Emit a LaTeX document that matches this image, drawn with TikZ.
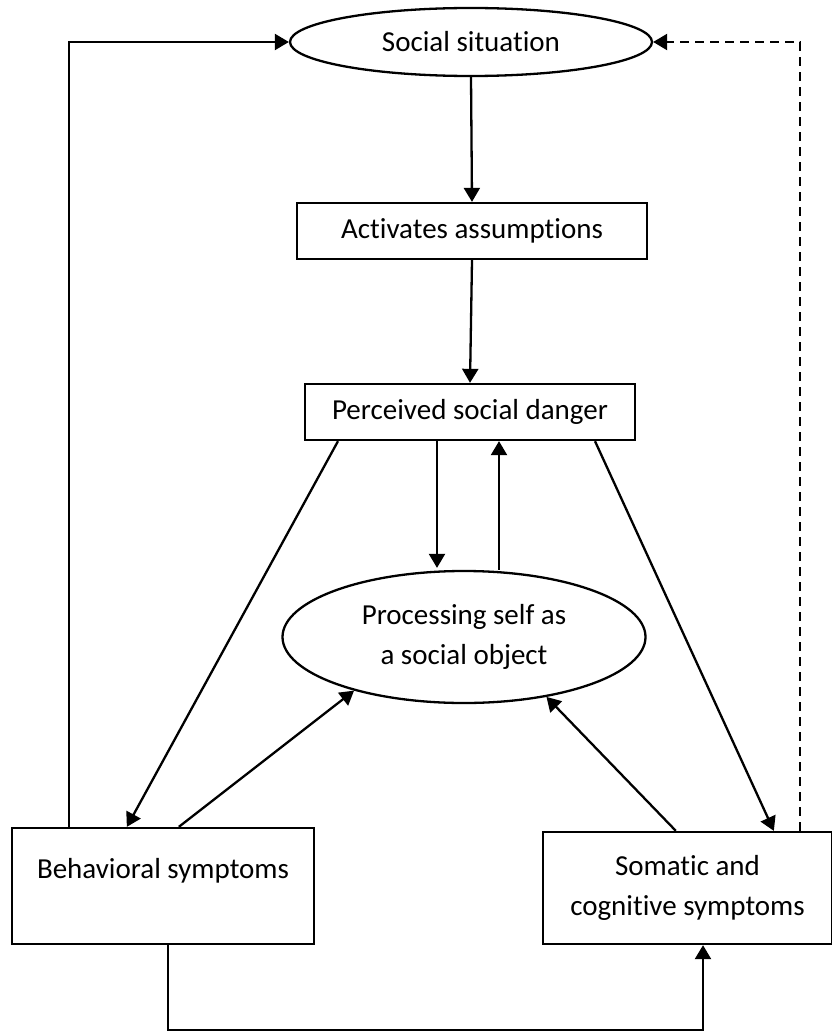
\documentclass[tikz,border=0pt]{standalone}
\usepackage{fontspec}
\setmainfont{Carlito}[RawFeature={-liga;-clig;-calt;-dlig}]
\usetikzlibrary{shapes.geometric,arrows.meta}
\newcommand\tI{t\kern0pt i}
\begin{document}
\begin{tikzpicture}[x=1pt,y=-1pt,
  every node/.style={font=\fontsize{29}{40}\selectfont, inner sep=0pt},
  box/.style={draw, line width=2.3pt, rectangle},
  oval/.style={draw, line width=2.3pt, ellipse},
  conn/.style={line width=2.3pt},
  arr/.style={conn, -{Triangle[length=14pt,width=16pt]}},
  dasharr/.style={arr, dash pattern=on 9pt off 6pt}]
\useasboundingbox (0,0) rectangle (831,1032);
% nodes
\node[oval, minimum width=362pt, minimum height=68pt] (soc) at (471,42) {Social situa\tI on};
\node[box, minimum width=350pt, minimum height=56pt] (act) at (472,231) {Ac\tI vates assump\tI ons};
\node[box, minimum width=330pt, minimum height=56pt] (per) at (470,412) {Perceived social danger};
\node[oval, minimum width=363pt, minimum height=132pt, align=center] (proc) at (464,637) {Processing self as\\a social object};
\node[box, minimum width=302pt, minimum height=116pt] (beh) at (163,886) {};
\node (behT) at (163,871) {Behavioral symptoms};
\node[box, minimum width=289pt, minimum height=112pt, align=center] (som) at (687.5,888) {Soma\tI c and\\cogni\tI ve symptoms};
% connectors
\draw[arr] (soc.south) -- (act.north);
\draw[arr] (act.south) -- (per.north);
\draw[arr, shorten >=2pt] ([xshift=-33pt]per.south) -- ([xshift=-33pt]per.south |- proc.north);
\draw[arr] ([xshift=29pt]per.south |- proc.north) -- ([xshift=29pt]per.south);
\draw[arr] ([xshift=-132pt]per.south) -- ([xshift=116pt]beh.north west);
\draw[arr] ([xshift=125pt]per.south) -- ([xshift=232pt]som.north west);
\draw[arr] ([xshift=168pt]beh.north west) -- (proc.206);
\draw[arr] ([xshift=134pt]som.north west) -- (proc.324);
\draw[arr] ([xshift=58pt]beh.north west) |- (soc.west);
\draw[dasharr] ([xshift=258pt]som.north west) |- (soc.east);
\draw[arr] ([xshift=5pt]beh.south) -- ++(0,85) -| ([xshift=15.5pt]som.south);
\end{tikzpicture}
\end{document}
